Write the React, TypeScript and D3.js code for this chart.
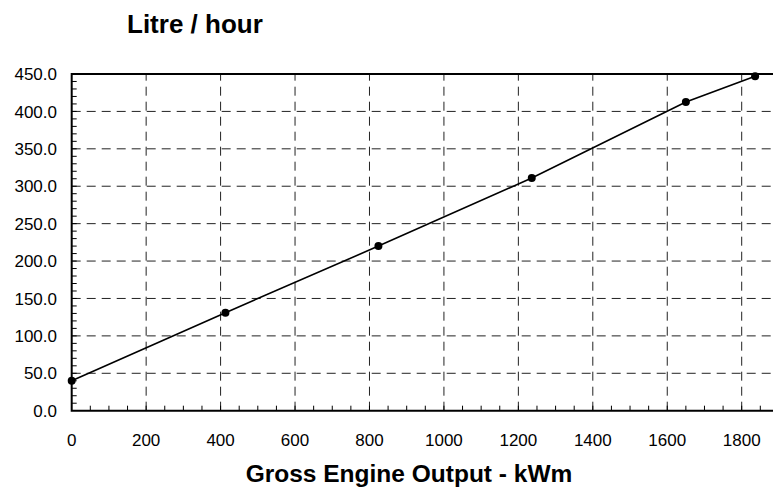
import { useEffect, useRef } from 'react';
import * as d3 from 'd3';

// Values
const outputKw = [0, 413, 824, 1236, 1650, 1836];
const litrePerHour = [40, 131, 220, 311, 412.5, 447];
const xTicks = [0, 200, 400, 600, 800, 1000, 1200, 1400, 1600, 1800];
const yTicks = [0, 50, 100, 150, 200, 250, 300, 350, 400, 450];

export default function App() {
    const svgRef = useRef<SVGSVGElement>(null);

    useEffect(() => {
        const svg = d3.select(svgRef.current);
        svg.selectAll('*').remove();

        const W = 773;
        const H = 489;
        const left = 71.7;
        const top = 74;
        const bottom = 410.7;

        const x = d3.scaleLinear().domain([0, 1800]).range([left, 741.7]);
        const y = d3.scaleLinear().domain([0, 450]).range([bottom, top]);
        const xEnd = x(1900);

        svg.attr('width', W).attr('height', H);
        const font = 'Arial, "Liberation Sans", Helvetica, sans-serif';

        // Grid
        const grid = svg.append('g').attr('stroke', '#222').attr('stroke-width', 1).attr('stroke-dasharray', '9,6');
        grid.selectAll('line.v')
            .data(xTicks.filter((d) => d > 0))
            .enter()
            .append('line')
            .attr('x1', (d) => x(d))
            .attr('x2', (d) => x(d))
            .attr('y1', bottom)
            .attr('y2', top);
        grid.selectAll('line.h')
            .data(yTicks.filter((d) => d > 0 && d < 450))
            .enter()
            .append('line')
            .attr('class', 'h')
            .attr('x1', left)
            .attr('x2', xEnd)
            .attr('y1', (d) => y(d))
            .attr('y2', (d) => y(d));

        // Minor ticks (inward)
        const ticks = svg.append('g').attr('stroke', '#000').attr('stroke-width', 1);
        ticks.selectAll('line.mx')
            .data(d3.range(50, 1900, 50))
            .enter()
            .append('line')
            .attr('x1', (d) => x(d))
            .attr('x2', (d) => x(d))
            .attr('y1', bottom)
            .attr('y2', bottom - 5);
        ticks.selectAll('line.my')
            .data(d3.range(10, 450, 10))
            .enter()
            .append('line')
            .attr('class', 'my')
            .attr('x1', left)
            .attr('x2', left + 5)
            .attr('y1', (d) => y(d))
            .attr('y2', (d) => y(d));

        // Frame
        svg.append('path')
            .attr('d', `M${xEnd},${top}H${left}V${bottom}H${xEnd}`)
            .attr('fill', 'none')
            .attr('stroke', '#000')
            .attr('stroke-width', 2);

        // Tick labels
        svg.append('g')
            .selectAll('text')
            .data(yTicks)
            .enter()
            .append('text')
            .attr('x', 57)
            .attr('y', (d) => y(d))
            .attr('dy', '0.36em')
            .attr('text-anchor', 'end')
            .style('font-family', font)
            .style('font-size', '17px')
            .text((d) => d.toFixed(1));

        svg.append('g')
            .selectAll('text')
            .data(xTicks)
            .enter()
            .append('text')
            .attr('x', (d) => x(d))
            .attr('y', 446)
            .attr('text-anchor', 'middle')
            .style('font-family', font)
            .style('font-size', '17px')
            .text((d) => d);

        // Series
        const pts = outputKw.map((d, i) => [d, litrePerHour[i]] as [number, number]);
        const line = d3.line<[number, number]>().x((d) => x(d[0])).y((d) => y(d[1]));
        svg.append('path')
            .attr('d', line(pts))
            .attr('fill', 'none')
            .attr('stroke', '#000')
            .attr('stroke-width', 1.6);
        svg.append('g')
            .selectAll('circle')
            .data(pts)
            .enter()
            .append('circle')
            .attr('cx', (d) => x(d[0]))
            .attr('cy', (d) => y(d[1]))
            .attr('r', 4)
            .attr('fill', '#000');

        // Titles
        svg.append('text')
            .attr('x', 127)
            .attr('y', 33)
            .style('font-family', font)
            .style('font-size', '26px')
            .style('font-weight', 'bold')
            .text('Litre / hour');

        svg.append('text')
            .attr('x', 409)
            .attr('y', 482)
            .attr('text-anchor', 'middle')
            .style('font-family', font)
            .style('font-size', '24.5px')
            .style('font-weight', 'bold')
            .text('Gross Engine Output - kWm');
    }, []);

    return (
        <div style={{ position: 'absolute', left: 0, top: 0 }}>
            <svg ref={svgRef}></svg>
        </div>
    );
}
